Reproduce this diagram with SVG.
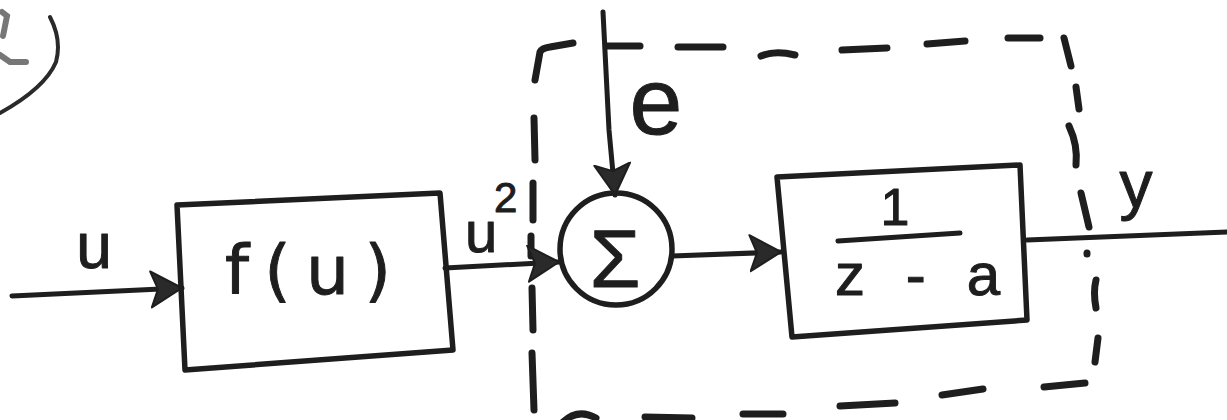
<svg xmlns="http://www.w3.org/2000/svg" width="1227" height="420" viewBox="0 0 1227 420">
<style>
  .box{fill:none;stroke:#1e1e1e;stroke-width:5.5;stroke-linejoin:round;stroke-linecap:round}
  .wire{fill:none;stroke:#1e1e1e;stroke-width:5;stroke-linecap:round}
  .dash{fill:none;stroke:#1e1e1e;stroke-width:7;stroke-linecap:round;stroke-linejoin:round}
  .lbl{font-family:"Liberation Sans",Arial,sans-serif;fill:#1e1e1e;stroke:#1e1e1e;stroke-width:1;stroke-linejoin:round}
</style>
<defs>
  <marker id="ah" markerUnits="userSpaceOnUse" markerWidth="36" markerHeight="40" refX="32" refY="19" orient="auto">
    <path d="M1,1 L32,19 L1,37 L8,19 z" fill="#2a2a2a" stroke="#1e1e1e" stroke-width="2" stroke-linejoin="round"/>
  </marker>
</defs>
<rect width="1227" height="420" fill="#ffffff"/>

<!-- top-left cropped fragment -->
<g id="fragment">
  <path d="M50,17 Q62,40 56,62 Q45,88 0,113" fill="none" stroke="#2a2a2a" stroke-width="4" stroke-linecap="round"/>
  <path d="M2,12 L7,16 L3,36" fill="none" stroke="#777" stroke-width="6" stroke-linecap="round"/>
  <path d="M0,55 L10,62 L26,62" fill="none" stroke="#777" stroke-width="6" stroke-linecap="round"/>
</g>

<!-- dashed boundary -->
<g id="boundary">
  <path class="dash" d="M535,80 L540,52 Q542,48 550,47 L573,43"/>
  <path class="dash" d="M534,118 L535,160"/>
  <path class="dash" d="M533,183 L533,220"/>
  <path class="dash" d="M531,236 L531,256"/>
  <path class="dash" d="M532,288 L533,330"/>
  <path class="dash" d="M532,353 L534,410"/>
  <path class="dash" d="M607,46 L640,46"/>
  <path class="dash" d="M678,47 L723,47"/>
  <path class="dash" d="M761,56 Q775,50 795,55"/>
  <path class="dash" d="M842,50 L887,48"/>
  <path class="dash" d="M927,44 L965,41"/>
  <path class="dash" d="M1008,38 L1040,38"/>
  <path class="dash" d="M1064,38 L1071,66"/>
  <path class="dash" d="M1076,87 L1079,109"/>
  <path class="dash" d="M1069,126 Q1078,145 1076,165"/>
  <path class="dash" d="M1081,193 L1089,227"/>
  <path class="dash" d="M1087,253 L1087,254"/>
  <path class="dash" d="M1096,280 Q1093,292 1096,308"/>
  <path class="dash" d="M1098,338 L1095,362"/>
  <path class="dash" d="M1044,387 L1085,383"/>
  <path class="dash" d="M942,395 L983,389"/>
  <path class="dash" d="M840,406 L895,403"/>
  <path class="dash" d="M743,414 L783,414"/>
  <path class="dash" d="M645,417 L692,418"/>
  <path class="dash" d="M563,422 Q578,408 596,418"/>
</g>

<!-- connectors -->
<g id="connectors">
  <path class="wire" d="M12,296 L182,288" marker-end="url(#ah)"/>
  <path class="wire" d="M445,268 L559,262" marker-end="url(#ah)"/>
  <path class="wire" d="M603,12 L609,130 L615,195" marker-end="url(#ah)"/>
  <path class="wire" d="M672,256 L781,252" marker-end="url(#ah)"/>
  <path class="wire" d="M1027,240 L1227,232"/>
  <path class="wire" d="M838,241 L960,233"/>
</g>

<!-- nodes -->
<g id="node-f">
  <polygon class="box" points="177,205 440,193 453,350 185,370"/>
  <text class="lbl" x="225" y="294" font-size="68" textLength="166" lengthAdjust="spacing" style="font-family:'DejaVu Sans',sans-serif">f(u)</text>
</g>
<g id="node-sum">
  <circle class="box" cx="616" cy="249" r="56"/>
  <text class="lbl" x="615" y="287" font-size="82" text-anchor="middle">Σ</text>
</g>
<g id="node-g">
  <polygon class="box" points="777,177 1020,165 1027,320 792,337"/>
  <text class="lbl" x="895" y="225" font-size="52" text-anchor="middle">1</text>
  <text class="lbl" x="835" y="295" font-size="60" textLength="165" lengthAdjust="spacing">z - a</text>
</g>

<!-- signal labels -->
<g id="labels">
  <text class="lbl" x="94" y="268" font-size="64" text-anchor="middle">u</text>
  <text class="lbl" x="465" y="252" font-size="58">u<tspan x="494" y="212" font-size="42">2</tspan></text>
  <text class="lbl" x="656" y="134" font-size="95" text-anchor="middle">e</text>
  <text class="lbl" x="1136" y="207" font-size="66" text-anchor="middle">y</text>
</g>
</svg>
